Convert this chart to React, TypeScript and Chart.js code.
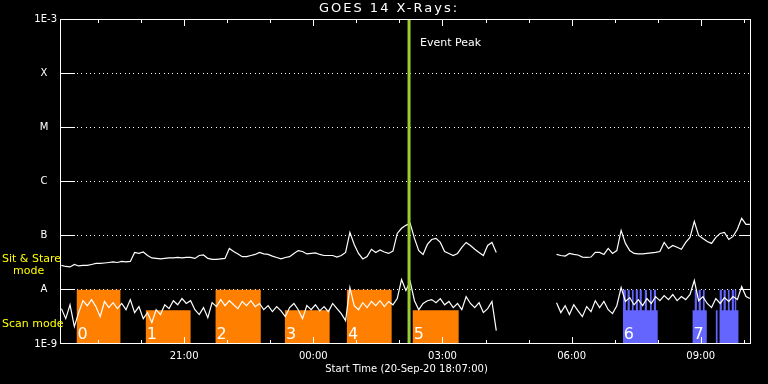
import React, { useEffect, useRef } from "react";
import { Chart, registerables } from "chart.js";

Chart.register(...registerables);

// ---------------- data ----------------
const START_HOUR = 18 + 7 / 60; // 20-Sep-20 18:07
const END_HOUR = 34 + 10 / 60;
const PEAK_HOUR = 26.224;
const GAP_HOUR = 28.95;
const FLUX_MIN = 1e-9;
const FLUX_MAX = 1e-3;

const seg1Hours = [
  18.15, 18.25, 18.35, 18.45, 18.55, 18.65, 18.75, 18.85, 18.95, 19.05,
  19.15, 19.25, 19.35, 19.45, 19.55, 19.65, 19.75, 19.85, 19.95, 20.05,
  20.15, 20.25, 20.35, 20.45, 20.55, 20.65, 20.75, 20.85, 20.95, 21.05,
  21.15, 21.25, 21.35, 21.45, 21.55, 21.65, 21.75, 21.85, 21.95, 22.05,
  22.15, 22.25, 22.35, 22.45, 22.55, 22.65, 22.75, 22.85, 22.95, 23.05,
  23.15, 23.25, 23.35, 23.45, 23.55, 23.65, 23.75, 23.85, 23.95, 24.05,
  24.15, 24.25, 24.35, 24.45, 24.55, 24.65, 24.75, 24.85, 24.95, 25.05,
  25.15, 25.25, 25.35, 25.45, 25.55, 25.65, 25.75, 25.85, 25.95, 26.05,
  26.15, 26.25, 26.35, 26.45, 26.55, 26.65, 26.75, 26.85, 26.95, 27.05,
  27.15, 27.25, 27.35, 27.45, 27.55, 27.65, 27.75, 27.85, 27.95, 28.05,
  28.15, 28.25,
];
const seg1Long = [
  2.82e-8, 2.7e-8, 2.65e-8, 2.94e-8, 2.76e-8, 2.82e-8, 2.82e-8, 2.94e-8, 3.07e-8, 3.07e-8,
  3.13e-8, 3.2e-8, 3.27e-8, 3.2e-8, 3.34e-8, 3.27e-8, 3.34e-8, 4.9e-8, 4.7e-8, 5.0e-8,
  4.3e-8, 3.88e-8, 3.8e-8, 3.72e-8, 3.8e-8, 3.88e-8, 3.88e-8, 3.96e-8, 3.88e-8, 3.96e-8,
  3.96e-8, 3.8e-8, 4.3e-8, 4.4e-8, 3.8e-8, 3.64e-8, 3.64e-8, 3.72e-8, 3.8e-8, 5.8e-8,
  5.1e-8, 4.6e-8, 4.1e-8, 4.1e-8, 4.3e-8, 4.5e-8, 4.9e-8, 4.6e-8, 4.5e-8, 4.2e-8,
  3.96e-8, 3.72e-8, 3.96e-8, 4.1e-8, 4.7e-8, 5.3e-8, 5.1e-8, 4.6e-8, 4.7e-8, 4.8e-8,
  4.5e-8, 4.3e-8, 4.3e-8, 4.3e-8, 4.03e-8, 4.3e-8, 4.9e-8, 1.15e-7, 6.9e-8, 4.7e-8,
  3.72e-8, 4.1e-8, 5.6e-8, 4.9e-8, 5.45e-8, 5.0e-8, 4.7e-8, 5.2e-8, 1.1e-7, 1.37e-7,
  1.55e-7, 1.69e-7, 8.9e-8, 5.3e-8, 4.5e-8, 6.9e-8, 8.5e-8, 8.9e-8, 7.5e-8, 5.1e-8,
  4.7e-8, 4.3e-8, 4.7e-8, 6.1e-8, 7.5e-8, 6.6e-8, 5.6e-8, 4.9e-8, 4.3e-8, 6.6e-8,
  7.5e-8, 4.9e-8,
];
const seg1Short = [
  4.5e-9, 2.94e-9, 5.3e-9, 2.09e-9, 3.8e-9, 6.3e-9, 5.1e-9, 6.6e-9, 4.9e-9, 3.2e-9,
  6.1e-9, 4.7e-9, 5.8e-9, 4.5e-9, 5.6e-9, 4.3e-9, 6.6e-9, 3.8e-9, 4.9e-9, 2.94e-9,
  3.8e-9, 2.48e-9, 4.3e-9, 3.49e-9, 5.3e-9, 4.5e-9, 6.3e-9, 5.3e-9, 6.9e-9, 5.6e-9,
  6.3e-9, 4.3e-9, 3.49e-9, 4.7e-9, 3.07e-9, 5.8e-9, 4.9e-9, 6.6e-9, 5.1e-9, 6.3e-9,
  5.3e-9, 4.5e-9, 6.1e-9, 5.1e-9, 6.3e-9, 4.9e-9, 5.6e-9, 4.3e-9, 5.1e-9, 3.96e-9,
  4.9e-9, 4.1e-9, 3.2e-9, 4.7e-9, 5.6e-9, 4.3e-9, 2.94e-9, 5.1e-9, 4.3e-9, 5.3e-9,
  4.1e-9, 4.9e-9, 3.96e-9, 5.6e-9, 4.5e-9, 3.64e-9, 2.7e-9, 1.1e-8, 5.1e-9, 4.3e-9,
  5.8e-9, 4.7e-9, 6.1e-9, 5.1e-9, 6.3e-9, 4.9e-9, 6.1e-9, 5.3e-9, 6.9e-9, 1.55e-8,
  9.7e-9, 1.42e-8, 6.3e-9, 4.3e-9, 5.6e-9, 6.3e-9, 6.6e-9, 5.8e-9, 6.9e-9, 5.3e-9,
  6.1e-9, 4.7e-9, 5.6e-9, 4.3e-9, 7.5e-9, 5.6e-9, 4.7e-9, 5.8e-9, 3.8e-9, 4.5e-9,
  6.1e-9, 1.76e-9,
];

const seg2Hours = [
  29.65, 29.75, 29.85, 29.95, 30.05, 30.15, 30.25, 30.35, 30.45, 30.55,
  30.65, 30.75, 30.85, 30.95, 31.05, 31.15, 31.25, 31.35, 31.45, 31.55,
  31.65, 31.75, 31.85, 31.95, 32.05, 32.15, 32.25, 32.35, 32.45, 32.55,
  32.65, 32.75, 32.85, 32.95, 33.05, 33.15, 33.25, 33.35, 33.45, 33.55,
  33.65, 33.75, 33.85, 33.95, 34.05, 34.14,
];
const seg2Long = [
  4.5e-8, 4.3e-8, 4.2e-8, 4.7e-8, 4.5e-8, 4.4e-8, 4.03e-8, 3.96e-8, 4.03e-8, 4.9e-8,
  4.9e-8, 4.5e-8, 5.8e-8, 4.7e-8, 5.3e-8, 1.25e-7, 7.2e-8, 5.3e-8, 4.7e-8, 4.6e-8,
  4.6e-8, 4.7e-8, 4.8e-8, 4.9e-8, 5.1e-8, 7.5e-8, 5.8e-8, 6.6e-8, 6.1e-8, 5.6e-8,
  7.5e-8, 9.3e-8, 1.84e-7, 1.01e-7, 8.9e-8, 7.8e-8, 7.2e-8, 9.3e-8, 1.1e-7, 1.15e-7,
  8.5e-8, 9.7e-8, 1.31e-7, 2.09e-7, 1.62e-7, 1.62e-7,
];
const seg2Short = [
  5.8e-9, 3.8e-9, 5.1e-9, 3.49e-9, 5.3e-9, 4.1e-9, 3.2e-9, 4.9e-9, 3.96e-9, 6.3e-9,
  4.7e-9, 6.1e-9, 4.3e-9, 3.64e-9, 5.1e-9, 1.1e-8, 6.1e-9, 7.2e-9, 5.3e-9, 6.6e-9,
  5.1e-9, 6.9e-9, 5.6e-9, 7.5e-9, 6.3e-9, 7.8e-9, 6.6e-9, 8.2e-9, 6.3e-9, 7.5e-9,
  6.6e-9, 8.2e-9, 1.49e-8, 6.3e-9, 7.5e-9, 5.6e-9, 4.7e-9, 6.9e-9, 5.6e-9, 7.2e-9,
  6.1e-9, 7.5e-9, 6.6e-9, 1.15e-8, 7.5e-9, 6.9e-9,
];

// observing-mode intervals (hours since 20-Sep 00:00)
const orangeStarts = [18.5, 20.11, 21.73, 23.34, 24.78, 26.31];
const orangeEnds = [19.52, 21.15, 22.78, 24.38, 25.82, 27.38];
const orangeLevels = [1e-8, 4.2e-9, 1e-8, 4.2e-9, 1e-8, 4.2e-9];
const orangeLabels = ["0", "1", "2", "3", "4", "5"];

const blueBlockStarts = [31.19, 32.81, 33.35, 33.44];
const blueBlockEnds = [32.0, 33.14, 33.39, 33.88];
const blueBlockLevels = [4.2e-9, 4.2e-9, 4.2e-9, 4.2e-9];
const blueStripeStarts = [31.19, 31.3, 31.4, 31.49, 31.58, 31.7, 31.82, 31.91, 32.86, 32.95, 33.05, 33.44, 33.53, 33.63, 33.72, 33.79];
const blueStripeEnds = [31.26, 31.35, 31.44, 31.54, 31.63, 31.75, 31.86, 31.96, 32.91, 33.0, 33.09, 33.49, 33.58, 33.67, 33.77, 33.83];
const blueStripeLevel = 1e-8;
const blueLabelHours = [31.19, 32.81];
const blueLabels = ["6", "7"];

// axes
const yTickValues = [1e-9, 1e-8, 1e-7, 1e-6, 1e-5, 1e-4, 1e-3];
const yTickLabels = ["1E-9", "A", "B", "C", "M", "X", "1E-3"];
const dottedLevels = [1e-8, 1e-7, 1e-6, 1e-5, 1e-4];
const rightTickLevels = [1e-8, 1e-7];
const hourTicks = [19, 20, 21, 22, 23, 24, 25, 26, 27, 28, 29, 30, 31, 32, 33, 34];
const labelHours = [21, 24, 27, 30, 33];
const labelTexts = ["21:00", "00:00", "03:00", "06:00", "09:00"];

const TITLE = "GOES 14 X-Rays:";
const X_TITLE = "Start Time (20-Sep-20 18:07:00)";
const PEAK_TEXT = "Event Peak";

const ORANGE = "#ff8000";
const BLUE = "#6464ff";
const PEAK_COLOR = "#9acd32";
const FONT = '"DejaVu Sans", sans-serif';

// -------------- helpers --------------
function series(hA: number[], vA: number[], hB: number[], vB: number[]) {
  const pts: { x: number; y: number | null }[] = [];
  hA.forEach((h, i) => pts.push({ x: h, y: vA[i] }));
  pts.push({ x: GAP_HOUR, y: null });
  hB.forEach((h, i) => pts.push({ x: h, y: vB[i] }));
  return pts;
}

function rects(starts: number[], ends: number[], levels: number[] | number) {
  const pts: { x: number; y: number }[] = [];
  starts.forEach((s, i) => {
    const lv = Array.isArray(levels) ? levels[i] : levels;
    pts.push({ x: s, y: FLUX_MIN }, { x: s, y: lv }, { x: ends[i], y: lv }, { x: ends[i], y: FLUX_MIN });
  });
  return pts;
}

const decor = {
  id: "goesDecor",
  beforeDraw(chart: any) {
    const { ctx, width, height } = chart;
    ctx.save();
    ctx.fillStyle = "#000";
    ctx.fillRect(0, 0, width, height);
    ctx.restore();
  },
  beforeDatasetsDraw(chart: any) {
    const { ctx, chartArea: a, scales } = chart;
    const y = scales.y;
    ctx.save();
    ctx.fillStyle = "#fff";
    dottedLevels.forEach((v) => {
      const py = Math.floor(y.getPixelForValue(v));
      for (let px = a.left + 17; px < a.right - 1; px += 4.33) ctx.fillRect(Math.round(px), py, 1, 1);
    });
    ctx.restore();
  },
  afterDatasetsDraw(chart: any) {
    const { ctx, chartArea: a, scales } = chart;
    const x = scales.x;
    const y = scales.y;
    ctx.save();
    ctx.strokeStyle = "#fff";
    ctx.lineWidth = 1;
    // frame
    ctx.strokeRect(a.left + 0.5, a.top + 0.5, a.right - a.left - 1, a.bottom - a.top - 1);
    ctx.beginPath();
    // left ticks
    yTickValues.forEach((v) => {
      const py = Math.min(Math.floor(y.getPixelForValue(v)), a.bottom - 1) + 0.5;
      ctx.moveTo(a.left, py);
      ctx.lineTo(a.left + 15, py);
    });
    rightTickLevels.forEach((v) => {
      const py = Math.floor(y.getPixelForValue(v)) + 0.5;
      ctx.moveTo(a.right - 12, py);
      ctx.lineTo(a.right, py);
    });
    // hour ticks top & bottom
    hourTicks.forEach((h) => {
      const px = Math.round(x.getPixelForValue(h)) + 0.5;
      if (px > a.right - 1) return;
      const len = labelHours.includes(h) ? 7 : 4;
      ctx.moveTo(px, a.top);
      ctx.lineTo(px, a.top + len);
      ctx.moveTo(px, a.bottom);
      ctx.lineTo(px, a.bottom - len);
    });
    ctx.stroke();

    // mode labels
    ctx.fillStyle = "#fff";
    ctx.font = "16px " + FONT;
    ctx.textAlign = "left";
    ctx.textBaseline = "alphabetic";
    orangeStarts.forEach((s, i) => {
      ctx.fillText(orangeLabels[i], x.getPixelForValue(s) + 1, a.bottom - 5);
    });
    blueLabelHours.forEach((s, i) => {
      ctx.fillText(blueLabels[i], x.getPixelForValue(s) + 1, a.bottom - 5);
    });

    // y labels
    ctx.font = "10px " + FONT;
    ctx.textBaseline = "middle";
    yTickValues.forEach((v, i) => {
      const py = y.getPixelForValue(v);
      const t = yTickLabels[i];
      if (t.length > 1) {
        ctx.textAlign = "right";
        ctx.fillText(t, a.left - 3, py);
      } else {
        ctx.textAlign = "center";
        ctx.fillText(t, a.left - 16, py);
      }
    });
    // x labels
    ctx.textAlign = "center";
    labelHours.forEach((h, i) => {
      ctx.fillText(labelTexts[i], x.getPixelForValue(h), a.bottom + 12);
    });
    ctx.fillText(X_TITLE, (a.left + a.right) / 2 + 1, a.bottom + 25);
    // title
    ctx.font = "13px " + FONT;
    (ctx as any).letterSpacing = "2px";
    ctx.fillText(TITLE, 389, 9);
    (ctx as any).letterSpacing = "0px";
    // event peak
    ctx.font = "11px " + FONT;
    ctx.textAlign = "left";
    ctx.fillText(PEAK_TEXT, x.getPixelForValue(PEAK_HOUR) + 11, 43);
    // mode legend
    ctx.fillStyle = "#ffff00";
    ctx.fillText("Sit & Stare", 2, 259);
    ctx.fillText("mode", 13, 271);
    ctx.fillText("Scan mode", 2, 324);
    ctx.restore();
  },
};

export default function App() {
  const ref = useRef<HTMLCanvasElement>(null);
  useEffect(() => {
    document.body.style.margin = "0";
    document.body.style.background = "#000";
    const rectBase = {
      type: "line" as const,
      borderColor: "rgba(0,0,0,0)",
      borderWidth: 0,
      pointRadius: 0,
      fill: "start",
      tension: 0,
      order: 3,
    };
    const chart = new Chart(ref.current as HTMLCanvasElement, {
      type: "line",
      data: {
        datasets: [
          {
            data: [
              { x: PEAK_HOUR, y: FLUX_MIN },
              { x: PEAK_HOUR, y: FLUX_MAX },
            ],
            borderColor: PEAK_COLOR,
            borderWidth: 3,
            pointRadius: 0,
            fill: false,
            order: 0,
          },
          {
            data: series(seg1Hours, seg1Long, seg2Hours, seg2Long),
            borderColor: "#fff",
            borderWidth: 1.2,
            pointRadius: 0,
            tension: 0,
            spanGaps: false,
            fill: false,
            order: 1,
          },
          {
            data: series(seg1Hours, seg1Short, seg2Hours, seg2Short),
            borderColor: "#fff",
            borderWidth: 1.2,
            pointRadius: 0,
            tension: 0,
            spanGaps: false,
            fill: false,
            order: 1,
          },
          { ...rectBase, data: rects(orangeStarts, orangeEnds, orangeLevels), backgroundColor: ORANGE },
          { ...rectBase, data: rects(blueBlockStarts, blueBlockEnds, blueBlockLevels), backgroundColor: BLUE },
          { ...rectBase, data: rects(blueStripeStarts, blueStripeEnds, blueStripeLevel), backgroundColor: BLUE },
        ] as any,
      },
      options: {
        responsive: false,
        maintainAspectRatio: false,
        animation: false,
        devicePixelRatio: 1,
        events: [],
        layout: { padding: { left: 60, right: 17, top: 19, bottom: 40 } },
        scales: {
          x: { type: "linear", min: START_HOUR, max: END_HOUR, display: false },
          y: { type: "logarithmic", min: FLUX_MIN, max: FLUX_MAX, display: false },
        },
        plugins: {
          legend: { display: false },
          tooltip: { enabled: false },
          title: { display: false },
        },
      },
      plugins: [decor],
    });
    return () => chart.destroy();
  }, []);
  return (
    <div style={{ position: "fixed", left: 0, top: 0, width: 768, height: 384, background: "#000" }}>
      <canvas ref={ref} width={768} height={384} style={{ display: "block", width: 768, height: 384 }} />
    </div>
  );
}
